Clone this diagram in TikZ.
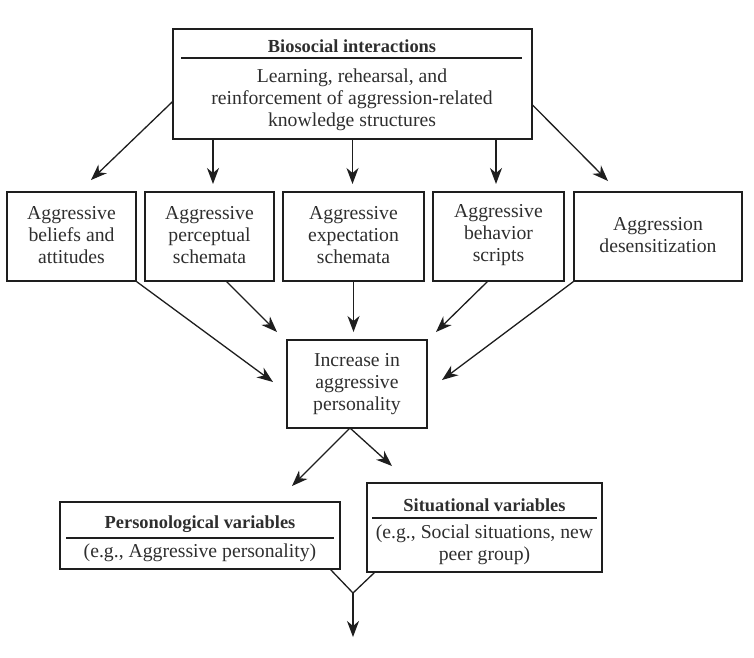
\documentclass[tikz,border=0pt]{standalone}
\usepackage{fontspec}
\setmainfont{Liberation Serif}
\usetikzlibrary{arrows.meta,calc}
\definecolor{ink}{HTML}{1E1E1E}
\definecolor{txt}{HTML}{2E2E2E}
\begin{document}
\begin{tikzpicture}[x=1pt,y=-1pt,
  box/.style={draw=ink,line width=1.3pt,inner sep=0pt},
  lbl/.style={text=txt,align=center,inner sep=0pt,font=\fontsize{19.7}{22}\selectfont},
  ttl/.style={text=txt,align=center,inner sep=0pt,font=\fontsize{18.4}{22}\selectfont\bfseries},
  sep/.style={draw=ink,line width=1.1pt},
  arr/.style={draw=ink,line width=1.3pt,-{Stealth[length=16pt,width=12pt,inset=5pt]}},
  ln/.style={draw=ink,line width=1.3pt}]
\useasboundingbox (0,0) rectangle (754,657);

% top box
\node[box,minimum width=359pt,minimum height=110pt] (top) at (352.5,84) {};
\node[ttl] (toptitle) at (352,46) {Biosocial interactions};
\coordinate (tsa) at (181,58); \coordinate (tsb) at (522,58);
\draw[sep] (tsa) -- (tsb);
\node[lbl] (topbody) at (352,99.5) {Learning, rehearsal, and\\reinforcement of aggression-related\\knowledge structures};

% row boxes
\node[box,minimum width=129pt,minimum height=89pt] (b1) at (71.5,236.5) {};
\node[lbl] (b1t) at (71.5,235.5) {Aggressive\\beliefs and\\attitudes};
\node[box,minimum width=129pt,minimum height=89pt] (b2) at (209.5,236.5) {};
\node[lbl] (b2t) at (209.5,235.5) {Aggressive\\perceptual\\schemata};
\node[box,minimum width=141pt,minimum height=89pt] (b3) at (353.5,236.5) {};
\node[lbl] (b3t) at (353.5,235.5) {Aggressive\\expectation\\schemata};
\node[box,minimum width=131pt,minimum height=89pt] (b4) at (498.5,236.5) {};
\node[lbl] (b4t) at (498.5,235.5) {Aggressive\\behavior\\scripts};
\node[box,minimum width=168pt,minimum height=89pt] (b5) at (658,236.5) {};
\node[lbl] (b5t) at (658,235.5) {Aggression\\desensitization};

% middle box
\node[box,minimum width=140pt,minimum height=88pt] (mid) at (357,384) {};
\node[lbl] (midt) at (357,384) {Increase in\\aggressive\\personality};

% bottom boxes
\node[box,minimum width=280pt,minimum height=67pt] (pers) at (200,535.5) {};
\node[ttl] (perst) at (200,524) {Personological variables};
\coordinate (psa) at (66,538); \coordinate (psb) at (334,538);
\draw[sep] (psa) -- (psb);
\node[lbl] (persb) at (200,552.5) {(e.g., Aggressive personality)};

\node[box,minimum width=235pt,minimum height=89pt] (sit) at (484.5,527.5) {};
\node[ttl] (sitt) at (484.5,505) {Situational variables};
\coordinate (ssa) at (372,518); \coordinate (ssb) at (597,518);
\draw[sep] (ssa) -- (ssb);
\node[lbl] (sitb) at (484.5,545) {(e.g., Social situations, new\\peer group)};

% arrows from top box
\coordinate (tl) at ($(top.north west)!0.66!(top.south west)$);
\coordinate (tr) at ($(top.north east)!0.69!(top.south east)$);
\coordinate (a1) at (91,180);
\coordinate (a5) at (608,181);
\draw[arr] (tl) -- (a1);
\coordinate (s2) at (213,139); \coordinate (e2) at (213,184);
\draw[arr] (s2) -- (e2);
\coordinate (e3) at (352.5,184);
\draw[arr] (top.south) -- (e3);
\coordinate (s4) at (496,139); \coordinate (e4) at (496,184);
\draw[arr] (s4) -- (e4);
\draw[arr] (tr) -- (a5);

% arrows into middle box
\coordinate (m1) at (273,382);
\draw[arr] (b1.south east) -- (m1);
\coordinate (f2) at (226,281); \coordinate (m2) at (277,332);
\draw[arr] (f2) -- (m2);
\coordinate (m3) at (353.5,332);
\draw[arr] (b3.south) -- (m3);
\coordinate (f4) at (488,281); \coordinate (m4) at (436,332);
\draw[arr] (f4) -- (m4);
\coordinate (m5) at (442,380);
\draw[arr] (b5.south west) -- (m5);

% fork below middle box
\coordinate (fk) at (350,428);
\coordinate (k1) at (292,486);
\coordinate (k2) at (392,466);
\draw[arr] (fk) -- (k1);
\draw[arr] (fk) -- (k2);

% join at bottom
\coordinate (jp) at ($(pers.south east)+(-10,0)$);
\coordinate (js) at ($(sit.south west)+(8,0)$);
\coordinate (j) at (353,593);
\coordinate (out) at (353,637);
\draw[ln] (jp) -- (j) -- (js);
\draw[arr] (j) -- (out);
\end{tikzpicture}
\end{document}
